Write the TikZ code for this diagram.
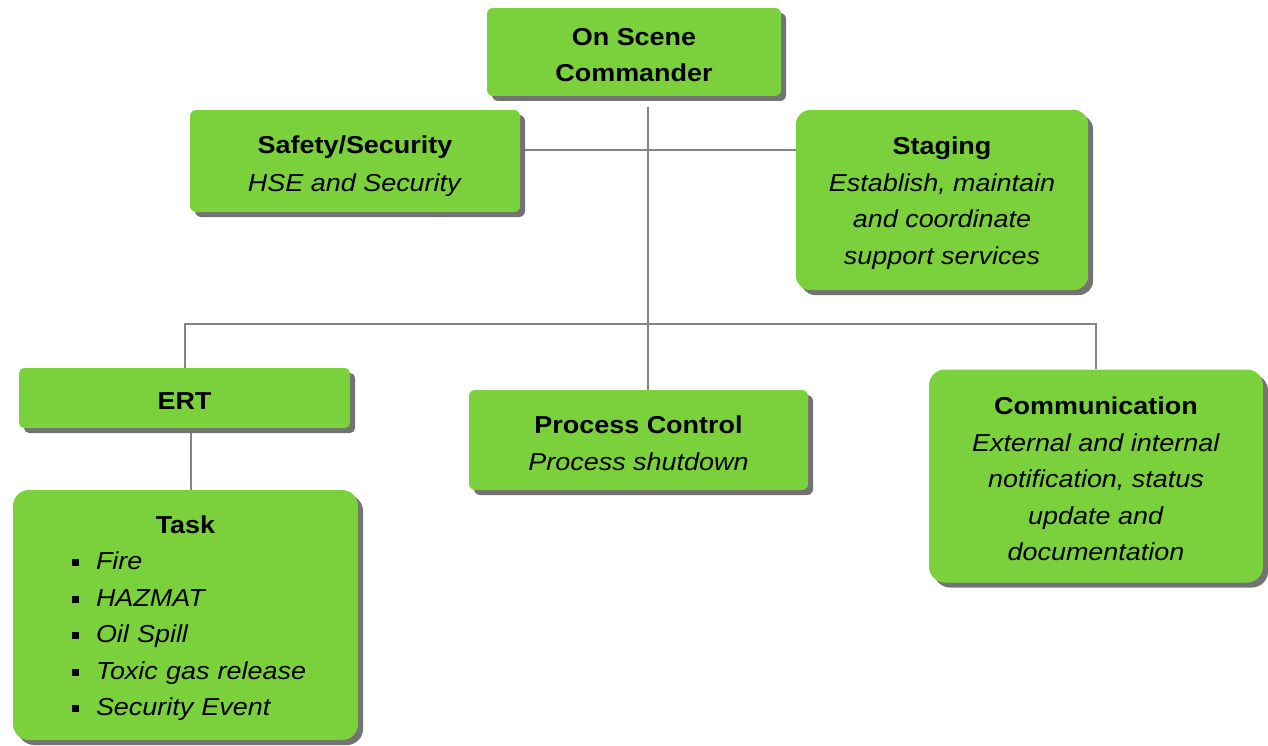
\documentclass[tikz,border=0pt]{standalone}
\usepackage{fontspec}
\setmainfont{Liberation Sans}[FakeStretch=1.1]
\usetikzlibrary{shadows,backgrounds}
\definecolor{boxgreen}{RGB}{123,209,59}
\definecolor{linkgray}{RGB}{132,132,132}
% one bullet line of the task list
\newcommand\taskitem[1]{\hspace*{31.5pt}\rule[3.5pt]{6.5pt}{7pt}\hspace{17.5pt}\textit{#1}}
\begin{document}
\begin{tikzpicture}[x=1pt,y=-1pt,
  box/.style={rectangle, fill=boxgreen, draw=none, inner sep=0pt,
    drop shadow={shadow xshift=5pt, shadow yshift=-5pt, fill=black!55, opacity=1}},
  boxtext/.style={text=black, align=center, inner sep=0pt, yshift=-3pt,
    font=\fontsize{24.5}{36.5}\selectfont},
  txt/.style={label={[boxtext]center:#1}},
  lowtxt/.style={label={[boxtext, yshift=-2pt]center:#1}},
  listtxt/.style={label={[boxtext, text width=290pt, align=left]center:#1}},
  link/.style={draw=linkgray, line width=2pt}]
\useasboundingbox (0,0) rectangle (1268,746);

% organisation boxes
\node[box, minimum width=294pt, minimum height=88pt, rounded corners=6pt,
      txt={\textbf{On Scene}\\\textbf{Commander}}] (osc) at (634,52) {};
\node[box, minimum width=330pt, minimum height=102pt, rounded corners=6pt,
      lowtxt={\textbf{Safety/Security}\\[1.5pt]\textit{HSE and Security}}] (safety) at (355,161) {};
\node[box, minimum width=292pt, minimum height=180pt, rounded corners=14pt,
      txt={\textbf{Staging}\\\textit{Establish, maintain}\\\textit{and coordinate}\\\textit{support services}}] (staging) at (942,200) {};
\node[box, minimum width=331pt, minimum height=60pt, rounded corners=5pt,
      txt={\textbf{ERT}}] (ert) at (184.5,398) {};
\node[box, minimum width=339pt, minimum height=100pt, rounded corners=6pt,
      txt={\textbf{Process Control}\\\textit{Process shutdown}}] (pc) at (638.5,440) {};
\node[box, minimum width=334pt, minimum height=213pt, rounded corners=16pt,
      txt={\textbf{Communication}\\\textit{External and internal}\\\textit{notification, status}\\\textit{update and}\\\textit{documentation}}] (comm) at (1096,476) {};
\node[box, minimum width=345pt, minimum height=250pt, rounded corners=16pt,
      listtxt={\makebox[\linewidth]{\textbf{Task}}\\
        \taskitem{Fire}\\
        \taskitem{HAZMAT}\\
        \taskitem{Oil Spill}\\
        \taskitem{Toxic gas release}\\
        \taskitem{Security Event}}] (task) at (185.5,615) {};

% junction points of the connectors
\coordinate (trunk) at (648,107);
\coordinate (hubtop) at (648,150);
\coordinate (hubbus) at (648,324);

\begin{pgfonlayer}{background}
  \draw[link] (trunk) -- (trunk |- pc.north);
  \draw[link] (hubtop -| safety.east) -- (hubtop -| staging.west);
  \draw[link] (ert.north) -- (ert.north |- hubbus) -- (comm.north |- hubbus) -- (comm.north);
  \draw[link] ([xshift=6pt]ert.south) -- ([xshift=6pt]ert.south |- task.north);
\end{pgfonlayer}
\end{tikzpicture}
\end{document}
